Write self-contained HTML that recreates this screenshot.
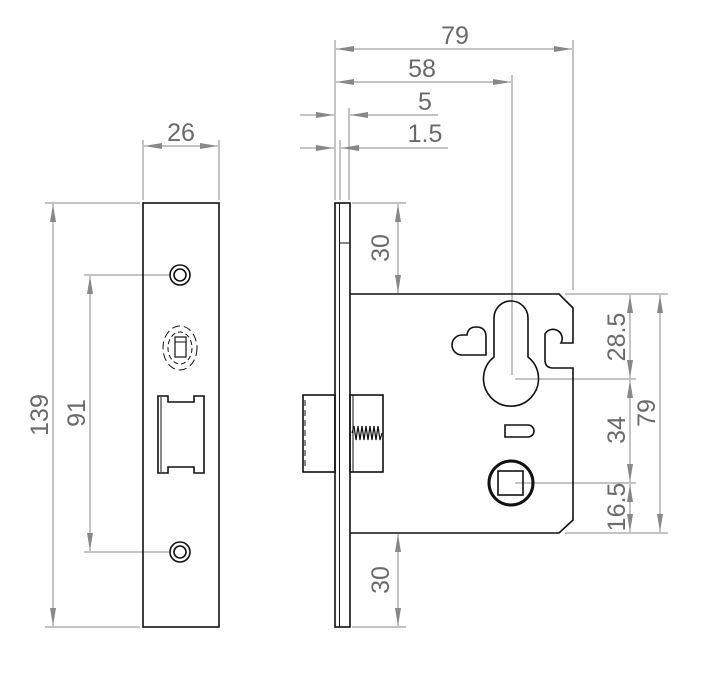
<!DOCTYPE html>
<html><head><style>
html,body{margin:0;padding:0;background:#fff;width:720px;height:688px;overflow:hidden}
text{font-family:"Liberation Sans","DejaVu Sans",sans-serif;font-size:25px;fill:#6a6a6a}
</style></head><body>
<svg width="720" height="688" viewBox="0 0 720 688" xmlns="http://www.w3.org/2000/svg">
<defs>
<marker id="a" viewBox="0 0 18 6" refX="18" refY="3" markerWidth="18" markerHeight="6" orient="auto" markerUnits="userSpaceOnUse">
<path d="M0,0 L18,3 L0,6 z" fill="#888"/></marker>
</defs>
<g stroke="#8a8a8a" stroke-width="1" fill="none">
<line x1="335" y1="40" x2="335" y2="200"/>
<line x1="573" y1="40" x2="573" y2="290"/>
<line x1="512" y1="75" x2="512" y2="375"/>
<line x1="349" y1="108" x2="349" y2="200"/>
<line x1="340" y1="140" x2="340" y2="200"/>
<line x1="454" y1="49" x2="336" y2="49" marker-end="url(#a)"/>
<line x1="454" y1="49" x2="572" y2="49" marker-end="url(#a)"/>
<line x1="420" y1="82" x2="336" y2="82" marker-end="url(#a)"/>
<line x1="420" y1="82" x2="511" y2="82" marker-end="url(#a)"/>
<line x1="300" y1="115" x2="334" y2="115" marker-end="url(#a)"/>
<line x1="438" y1="115" x2="350" y2="115" marker-end="url(#a)"/>
<line x1="300" y1="148" x2="334" y2="148" marker-end="url(#a)"/>
<line x1="448" y1="148" x2="341" y2="148" marker-end="url(#a)"/>
<line x1="143" y1="140" x2="143" y2="200"/>
<line x1="219" y1="140" x2="219" y2="200"/>
<line x1="181" y1="146" x2="144" y2="146" marker-end="url(#a)"/>
<line x1="181" y1="146" x2="218" y2="146" marker-end="url(#a)"/>
<line x1="45" y1="203" x2="140" y2="203"/>
<line x1="45" y1="627" x2="140" y2="627"/>
<line x1="53" y1="415" x2="53" y2="204" marker-end="url(#a)"/>
<line x1="53" y1="415" x2="53" y2="626" marker-end="url(#a)"/>
<line x1="84" y1="275" x2="170" y2="275"/>
<line x1="84" y1="552" x2="170" y2="552"/>
<line x1="90" y1="413" x2="90" y2="276" marker-end="url(#a)"/>
<line x1="90" y1="413" x2="90" y2="551" marker-end="url(#a)"/>
<line x1="352" y1="203" x2="406" y2="203"/>
<line x1="398" y1="248" x2="398" y2="204" marker-end="url(#a)"/>
<line x1="398" y1="248" x2="398" y2="293" marker-end="url(#a)"/>
<line x1="352" y1="627" x2="406" y2="627"/>
<line x1="398" y1="580" x2="398" y2="534" marker-end="url(#a)"/>
<line x1="398" y1="580" x2="398" y2="626" marker-end="url(#a)"/>
<line x1="565" y1="294" x2="668" y2="294"/>
<line x1="565" y1="533" x2="668" y2="533"/>
<line x1="515" y1="379" x2="636" y2="379"/>
<line x1="515" y1="483" x2="636" y2="483"/>
<line x1="660" y1="413" x2="660" y2="295" marker-end="url(#a)"/>
<line x1="660" y1="413" x2="660" y2="532" marker-end="url(#a)"/>
<line x1="630" y1="336" x2="630" y2="295" marker-end="url(#a)"/>
<line x1="630" y1="336" x2="630" y2="378" marker-end="url(#a)"/>
<line x1="630" y1="430" x2="630" y2="380" marker-end="url(#a)"/>
<line x1="630" y1="430" x2="630" y2="482" marker-end="url(#a)"/>
<line x1="630" y1="508" x2="630" y2="484" marker-end="url(#a)"/>
<line x1="630" y1="508" x2="630" y2="532" marker-end="url(#a)"/>
</g>
<g>
<text x="455" y="44" text-anchor="middle">79</text>
<text x="422" y="77" text-anchor="middle">58</text>
<text x="425" y="110" text-anchor="middle">5</text>
<text x="425" y="142" text-anchor="middle">1.5</text>
<text x="181" y="141" text-anchor="middle">26</text>
<text transform="translate(48,415) rotate(-90)" text-anchor="middle">139</text>
<text transform="translate(85,413) rotate(-90)" text-anchor="middle">91</text>
<text transform="translate(389,248) rotate(-90)" text-anchor="middle">30</text>
<text transform="translate(389,580) rotate(-90)" text-anchor="middle">30</text>
<text transform="translate(655,413) rotate(-90)" text-anchor="middle">79</text>
<text transform="translate(625,337) rotate(-90)" text-anchor="middle">28.5</text>
<text transform="translate(625,430) rotate(-90)" text-anchor="middle">34</text>
<text transform="translate(625,507) rotate(-90)" text-anchor="middle">16.5</text>
</g>
<g stroke="#111" stroke-width="1.6" fill="none">
<rect x="143" y="203" width="76" height="424"/>
<circle cx="180" cy="275" r="10"/><circle cx="180" cy="275" r="6"/>
<circle cx="180" cy="552" r="10"/><circle cx="180" cy="552" r="6"/>
<rect x="175" y="337" width="11" height="20" stroke-width="1.2"/>
<line x1="175" y1="342" x2="186" y2="342" stroke-width="1"/>
<ellipse cx="180" cy="348" rx="12" ry="16" stroke-dasharray="5,3" stroke-width="1"/>
<ellipse cx="180" cy="348" rx="17" ry="22" stroke-dasharray="8,4" stroke-width="1"/>
<path d="M158,396 L168,396 L168,402 L194,402 L194,396 L204,396 L204,473 L194,473 L194,467 L168,467 L168,473 L158,473 Z"/>
<line x1="161" y1="397" x2="161" y2="472" stroke-width="1"/>
<rect x="335" y="203" width="15" height="424"/>
<line x1="339.5" y1="203" x2="339.5" y2="627" stroke-width="1"/>
<line x1="340" y1="243" x2="350" y2="243" stroke-width="1"/>
<path d="M350,294 L559,294 L573,308 L573,343 L561,343 A8,8 0 0 0 545,334 L545,360 Q545,368 553,368 L573,368 L573,520 L559,533 L350,533"/>
<path d="M494,318 A17,17 0 0 1 528,318 L528,357 A27.5,27.5 0 1 1 494,357 Z"/>
<path d="M486,355 L462,355 A10,10 0 0 1 462,335 L467,335 Q468,327 476,327 Q486,327 486,337 Z"/>
<path d="M505,425 L528,425 A6,6 0 0 1 528,437 L505,437 Z"/>
<circle cx="511" cy="483" r="22" stroke-width="3"/>
<rect x="498" y="471" width="25" height="24"/>
<rect x="303" y="395" width="32" height="77"/>
<rect x="350" y="395" width="33" height="77"/>
<line x1="353" y1="395" x2="353" y2="472" stroke-width="1"/>
<path d="M352,433 l2,-7 l2,14 l2,-14 l2,14 l2,-14 l2,14 l2,-14 l2,14 l2,-14 l2,14 l2,-14 l2,14 l2,-14 l2,14 l2,-7" stroke-width="1.2"/>
<line x1="305" y1="400" x2="305" y2="467" stroke-dasharray="6,4" stroke-width="1"/>
</g>
</svg>
</body></html>
